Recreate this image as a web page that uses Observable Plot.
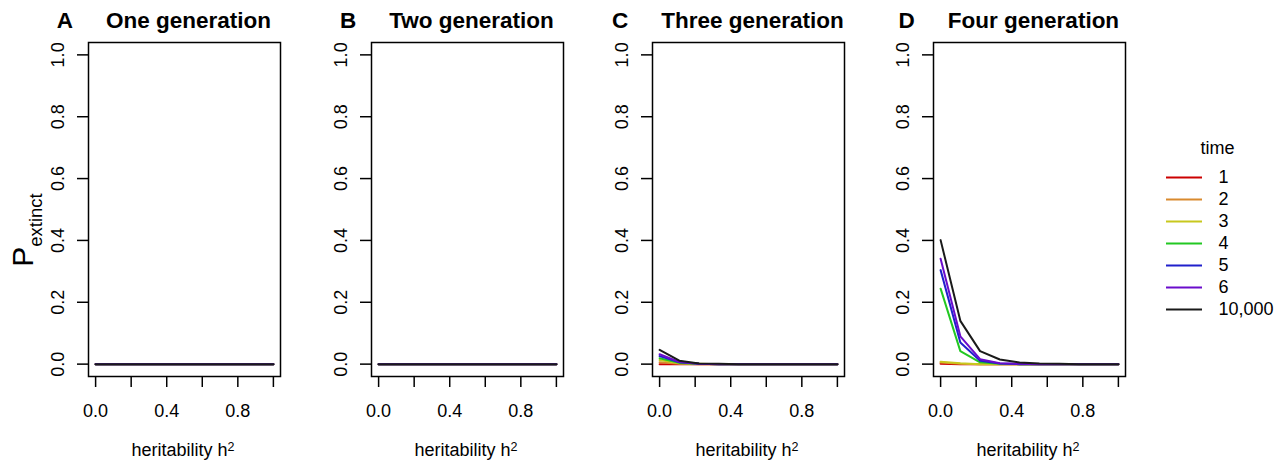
<!DOCTYPE html>
<html><head><meta charset="utf-8">
<script src="https://cdn.jsdelivr.net/npm/d3@7"></script>
<script src="https://cdn.jsdelivr.net/npm/@observablehq/plot@0.6"></script>
<style>
body{margin:0;background:#fff;}
#wrap{position:relative;width:1286px;height:464px;overflow:hidden;font-family:"Liberation Sans",Arial,Helvetica,sans-serif;}
#wrap svg{position:absolute;top:0;overflow:visible;}
</style></head><body><div id="wrap"></div>
<script>
// ---- data ----
const h2 = [0, 0.111, 0.222, 0.333, 0.444, 0.556, 0.667, 0.778, 0.889, 1];
const times = ["1", "2", "3", "4", "5", "6", "10,000"];
const timeColors = ["#cc0000", "#d98a2e", "#c8c81e", "#22c822", "#2020cc", "#6a0ccc", "#1a1a1a"];

const zeros = [0, 0, 0, 0, 0, 0, 0, 0, 0, 0];
const gen1 = [zeros, zeros, zeros, zeros, zeros, zeros, zeros];
const gen2 = [zeros, zeros, zeros, zeros, zeros, zeros, zeros];
const gen3 = [
  [0, 0, 0, 0, 0, 0, 0, 0, 0, 0],
  [0.006, 0.001, 0, 0, 0, 0, 0, 0, 0, 0],
  [0.013, 0.003, 0.001, 0, 0, 0, 0, 0, 0, 0],
  [0.019, 0.004, 0.001, 0, 0, 0, 0, 0, 0, 0],
  [0.026, 0.006, 0.001, 0, 0, 0, 0, 0, 0, 0],
  [0.032, 0.007, 0.001, 0, 0, 0, 0, 0, 0, 0],
  [0.046, 0.011, 0.002, 0.001, 0, 0, 0, 0, 0, 0]
];
const gen4 = [
  [0.001, 0, 0, 0, 0, 0, 0, 0, 0, 0],
  [0.005, 0.001, 0, 0, 0, 0, 0, 0, 0, 0],
  [0.008, 0.003, 0, 0, 0, 0, 0, 0, 0, 0],
  [0.244, 0.042, 0.006, 0.001, 0, 0, 0, 0, 0, 0],
  [0.304, 0.070, 0.011, 0.002, 0, 0, 0, 0, 0, 0],
  [0.341, 0.090, 0.016, 0.003, 0.001, 0, 0, 0, 0, 0],
  [0.401, 0.140, 0.042, 0.015, 0.005, 0.002, 0.001, 0, 0, 0]
];
const panelData = [gen1, gen2, gen3, gen4];
const panelLetters = ["A", "B", "C", "D"];
const panelTitles = ["One generation", "Two generation", "Three generation", "Four generation"];
const xTicks = [0, 0.2, 0.4, 0.6, 0.8, 1.0];
const xTickLabels = ["0.0", "", "0.4", "", "0.8", ""];
const yTicks = [0, 0.2, 0.4, 0.6, 0.8, 1.0];
const yTickLabels = ["0.0", "0.2", "0.4", "0.6", "0.8", "1.0"];
const xTitle = "heritability h";
const xTitleSup = "2";
const yTitle = "P";
const yTitleSub = "extinct";
const legendTitle = "time";

// ---- layout ----
const FONT = '"Liberation Sans", Arial, Helvetica, sans-serif';
const wrap = document.getElementById("wrap");
const boxLefts = [88, 370.7, 651.7, 933];
const boxW = 192;
const mL = 88, mR = 10, mT = 42, mB = 88, H = 464;
const FS = 18;

const ctx = document.createElement("canvas").getContext("2d");
ctx.font = `bold 22.5px ${FONT}`;

panelData.forEach((series, pi) => {
  const rows = [];
  series.forEach((vals, ti) => vals.forEach((v, k) => rows.push({h: h2[k], p: v, time: times[ti]})));
  const svg = Plot.plot({
    width: mL + boxW + mR,
    height: H,
    marginLeft: mL, marginRight: mR, marginTop: mT, marginBottom: mB,
    style: {fontFamily: FONT, fontSize: FS + "px", background: "transparent", color: "black"},
    x: {domain: [-0.04, 1.04], label: null},
    y: {domain: [-0.04, 1.04], label: null},
    color: {domain: times, range: timeColors},
    marks: [
      Plot.line(rows, {x: "h", y: "p", z: "time", stroke: "time", strokeWidth: 2}),
      Plot.frame({stroke: "black", strokeWidth: 1.5}),
      Plot.axisX(xTicks, {tickSize: 11, tickPadding: 17, strokeWidth: 1.5, fontSize: FS,
        tickFormat: d => xTickLabels[xTicks.indexOf(d)], label: null}),
      Plot.axisY(yTicks, {tickSize: 11, tickPadding: 14, tickRotate: -90, strokeWidth: 1.5, fontSize: FS,
        tickFormat: d => yTickLabels[yTicks.indexOf(d)], label: null})
    ]
  });
  svg.style.left = (boxLefts[pi] - mL) + "px";
  wrap.appendChild(svg);
  const s = d3.select(svg);
  const cx = mL + boxW / 2;
  // title
  const tw = ctx.measureText(panelTitles[pi]).width;
  const tcx = cx + 4.5;
  s.append("text").attr("x", tcx).attr("y", 28).attr("text-anchor", "middle")
    .attr("font-weight", "bold").attr("font-size", 22.5).attr("font-family", FONT).attr("fill", "black")
    .text(panelTitles[pi]);
  s.append("text").attr("x", tcx - tw / 2 - 33).attr("y", 28).attr("text-anchor", "end")
    .attr("font-weight", "bold").attr("font-size", 22.5).attr("font-family", FONT).attr("fill", "black")
    .text(panelLetters[pi]);
  // x title
  const xt = s.append("text").attr("x", cx - 1).attr("y", 456).attr("text-anchor", "middle")
    .attr("font-size", FS).attr("font-family", FONT).attr("fill", "black");
  xt.append("tspan").text(xTitle);
  xt.append("tspan").attr("dy", -5.5).attr("font-size", 12.5).text(xTitleSup);
  if (pi === 0) {
    const yt = s.append("text").attr("transform", "translate(33,230) rotate(-90)").attr("text-anchor", "middle")
      .attr("font-family", FONT).attr("fill", "black");
    yt.append("tspan").attr("font-size", 30).text(yTitle);
    yt.append("tspan").attr("font-size", 18.5).attr("dy", 9).text(yTitleSub);
  }
});

// ---- legend ----
const legend = Plot.plot({
  width: 136, height: 200,
  margin: 0,
  style: {fontFamily: FONT, fontSize: FS + "px", background: "transparent", color: "black"},
  x: {type: "identity"},
  y: {type: "point", domain: times, range: [45, 180], padding: 0},
  color: {domain: times, range: timeColors},
  axis: null,
  marks: [
    Plot.ruleY(times, {y: d => d, x1: 16, x2: 52, stroke: d => d, strokeWidth: 2}),
    Plot.text(times, {y: d => d, x: 68, text: d => d, textAnchor: "start", fill: "black", fontSize: FS}),
    Plot.text([legendTitle], {x: 67, frameAnchor: "top", dy: 23, lineAnchor: "bottom", text: d => d, fill: "black", fontSize: FS})
  ]
});
legend.style.left = "1150px";
legend.style.top = "130px";
wrap.appendChild(legend);
</script></body></html>
